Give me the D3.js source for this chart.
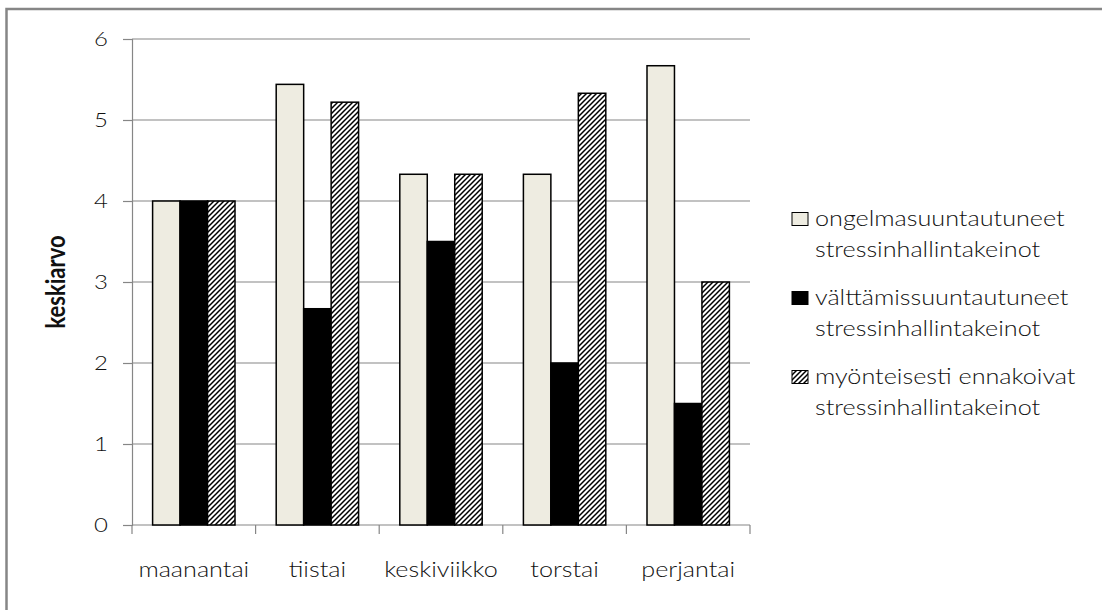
<!DOCTYPE html>
<html>
<head>
<meta charset="utf-8">
<script src="https://cdn.jsdelivr.net/npm/d3@7"></script>
<style>
  html, body { margin: 0; padding: 0; background: #fff; }
  svg { display: block; }
  text { font-family: Lato, "Open Sans", sans-serif; fill: #111; }
</style>
</head>
<body>
<svg id="chart" width="1102" height="610"></svg>
<script>
// Weekday averages of stress-management strategy types
const categories = ["maanantai", "tiistai", "keskiviikko", "torstai", "perjantai"];
const seriesNames = [
  ["ongelmasuuntautuneet", "stressinhallintakeinot"],
  ["välttämissuuntautuneet", "stressinhallintakeinot"],
  ["myönteisesti ennakoivat", "stressinhallintakeinot"]
];
const ongelma = [4, 5.44, 4.33, 4.33, 5.67];
const valttamis = [4, 2.67, 3.5, 2, 1.5];
const myonteis = [4, 5.22, 4.33, 5.33, 3];
const yTicks = [0, 1, 2, 3, 4, 5, 6];
const yTitle = "keskiarvo";

const series = [ongelma, valttamis, myonteis];
const fills = ["#EEECE1", "#000000", "url(#hatch)"];

const svg = d3.select("#chart");
const W = 1102, H = 610;
const stretch = 1.2; // wide glyph proportions of the labels

svg.append("rect").attr("width", W).attr("height", H).attr("fill", "#fff");

// outer chart frame
svg.append("rect")
  .attr("x", 6.5).attr("y", 9)
  .attr("width", 1200).attr("height", 700)
  .attr("fill", "none").attr("stroke", "#868686").attr("stroke-width", 2.5);

// hatch fill
const defs = svg.append("defs");
const pat = defs.append("pattern")
  .attr("id", "hatch").attr("patternUnits", "userSpaceOnUse")
  .attr("width", 5).attr("height", 5);
pat.append("rect").attr("width", 5).attr("height", 5).attr("fill", "#fff");
pat.append("path")
  .attr("d", "M-1,1 L1,-1 M0,5 L5,0 M4,6 L6,4")
  .attr("stroke", "#000").attr("stroke-width", 1.5);

const plot = { left: 132, right: 750, top: 39, bottom: 525 };

const x = d3.scaleBand().domain(categories)
  .range([plot.left, plot.right]).paddingInner(0).paddingOuter(0);
const gap = x.bandwidth() / 6;
const xs = d3.scaleBand().domain(d3.range(series.length))
  .range([gap, x.bandwidth() - gap]).padding(0);
const y = d3.scaleLinear().domain([0, 6]).range([plot.bottom, plot.top]);

// gridlines
svg.append("g").selectAll("line").data(yTicks.filter(d => d > 0)).join("line")
  .attr("x1", plot.left).attr("x2", plot.right)
  .attr("y1", d => y(d)).attr("y2", d => y(d))
  .attr("stroke", "#868686").attr("stroke-width", 1.2);

// y axis
const yAxis = svg.append("g").attr("transform", `translate(${plot.left},0)`)
  .call(d3.axisLeft(y).tickValues(yTicks).tickSize(9).tickFormat(""));
yAxis.select(".domain").attr("stroke", "#868686").attr("stroke-width", 1.2);
yAxis.selectAll(".tick line").attr("stroke", "#868686").attr("stroke-width", 1.2);

// x axis line and boundary ticks
const xAxisG = svg.append("g");
xAxisG.append("line")
  .attr("x1", plot.left).attr("x2", plot.right)
  .attr("y1", y(0)).attr("y2", y(0))
  .attr("stroke", "#868686").attr("stroke-width", 1.2);
const bounds = categories.map(c => x(c)).concat([x(categories[categories.length - 1]) + x.bandwidth()]);
xAxisG.selectAll("line.b").data(bounds).join("line").attr("class", "b")
  .attr("x1", d => d).attr("x2", d => d)
  .attr("y1", y(0)).attr("y2", y(0) + 9)
  .attr("stroke", "#868686").attr("stroke-width", 1.2);

// bars
series.forEach((vals, si) => {
  svg.append("g").selectAll("rect").data(vals).join("rect")
    .attr("x", (d, i) => x(categories[i]) + xs(si))
    .attr("y", d => y(d))
    .attr("width", xs.bandwidth())
    .attr("height", d => y(0) - y(d))
    .attr("fill", fills[si])
    .attr("stroke", "#000").attr("stroke-width", 1.5);
});

// y tick labels
svg.append("g").selectAll("text").data(yTicks).join("text")
  .attr("transform", d => `translate(108,${y(d) + 7}) scale(${stretch},1)`)
  .attr("text-anchor", "end")
  .style("font-size", "20px").style("font-weight", 300)
  .text(d => d);

// category labels
svg.append("g").selectAll("text").data(categories).join("text")
  .attr("transform", d => `translate(${x(d) + x.bandwidth() / 2},577) scale(${stretch},1)`)
  .attr("text-anchor", "middle")
  .style("font-size", "21px").style("font-weight", 300)
  .text(d => d);

// y axis title
svg.append("text")
  .attr("transform", `translate(65,${(plot.top + plot.bottom) / 2}) rotate(-90) scale(1,${stretch})`)
  .attr("text-anchor", "middle")
  .style("font-size", "22px").style("font-weight", "bold")
  .text(yTitle);

// legend
const legend = svg.append("g");
const legendY = [219, 298, 377];
seriesNames.forEach((lines, i) => {
  const g = legend.append("g").attr("transform", `translate(0,${legendY[i]})`);
  g.append("rect")
    .attr("x", 792).attr("y", -6.5).attr("width", 16).attr("height", 13)
    .attr("fill", fills[i]).attr("stroke", "#000").attr("stroke-width", 1);
  lines.forEach((t, j) => {
    g.append("text")
      .attr("transform", `translate(815,${7 + j * 31}) scale(${stretch},1)`)
      .style("font-size", "21px").style("font-weight", 300)
      .text(t);
  });
});
</script>
</body>
</html>
